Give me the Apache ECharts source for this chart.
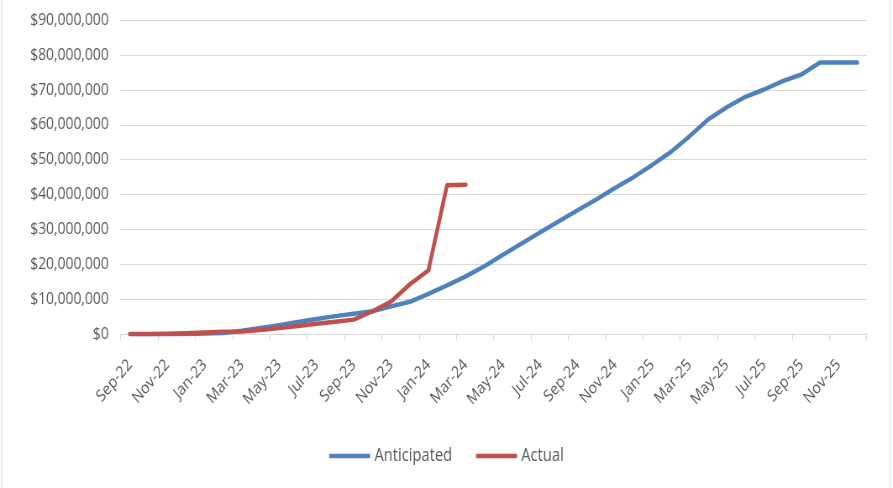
<!DOCTYPE html>
<html>
<head>
<meta charset="utf-8">
<script src="https://cdn.jsdelivr.net/npm/echarts@6/dist/echarts.min.js"></script>
<style>
  html, body { margin: 0; padding: 0; background: #fff; overflow: hidden; }
  #wrap { width: 893px; height: 488px; overflow: hidden; position: relative; }
  #chart { width: 1063px; height: 488px; transform: scaleX(0.84); transform-origin: 0 0; }
</style>
</head>
<body>
<div id="wrap"><div id="chart"></div></div>
<script>
// Months (categories)
var months = ['Sep-22','Oct-22','Nov-22','Dec-22',
  'Jan-23','Feb-23','Mar-23','Apr-23','May-23','Jun-23','Jul-23','Aug-23','Sep-23','Oct-23','Nov-23','Dec-23',
  'Jan-24','Feb-24','Mar-24','Apr-24','May-24','Jun-24','Jul-24','Aug-24','Sep-24','Oct-24','Nov-24','Dec-24',
  'Jan-25','Feb-25','Mar-25','Apr-25','May-25','Jun-25','Jul-25','Aug-25','Sep-25','Oct-25','Nov-25','Dec-25'];

// Cumulative values, in millions of dollars
var anticipatedM = [0, 0, 0.05, 0.1, 0.2, 0.4, 1.0, 1.8, 2.6, 3.5, 4.4, 5.2, 5.9, 6.6, 8.0, 9.3,
  11.6, 14.0, 16.6, 19.5, 22.8, 26.0, 29.2, 32.4, 35.5, 38.6, 41.9, 45.0,
  48.5, 52.2, 56.7, 61.5, 65.0, 68.0, 70.1, 72.5, 74.4, 77.8, 77.8, 77.8];
var actualM = [0.1, 0.1, 0.15, 0.3, 0.5, 0.7, 0.8, 1.2, 1.8, 2.4, 3.0, 3.6, 4.2, 6.6, 9.4, 14.3,
  18.3, 42.7, 42.8];

// Y axis ticks
var yMin = 0, yMax = 90000000, yStep = 10000000;

var seriesNames = ['Anticipated', 'Actual'];
var seriesColors = ['#4F81BD', '#C0504D'];

var FONT = "'Open Sans', sans-serif";
var TXT = '#595959';
var SX = 0.84; // horizontal squeeze of the whole drawing

function toDollars(arr) { return arr.map(function (v) { return Math.round(v * 1e6); }); }
function money(v) { return '$' + Number(v).toLocaleString('en-US'); }

var chart = echarts.init(document.getElementById('chart'));
chart.setOption({
  backgroundColor: '#ffffff',
  animation: false,
  graphic: [{
    type: 'rect', silent: true, z: -10,
    shape: { x: 1.5 / SX, y: -5, width: 888.5 / SX, height: 500 },
    style: { fill: 'none', stroke: '#d9d9d9', lineWidth: 1 }
  }],
  grid: { left: 120.7 / SX, right: 26.3 / SX, top: 20, bottom: 153.7, containLabel: false, outerBoundsMode: 'none' },
  legend: {
    data: seriesNames,
    left: 'center', top: 442,
    icon: 'roundRect',
    itemWidth: 41 / SX, itemHeight: 4.5, itemGap: 24 / SX,
    textStyle: { color: TXT, fontSize: 17.5, fontFamily: FONT }
  },
  xAxis: {
    type: 'category',
    data: months,
    boundaryGap: true,
    axisLine: { show: true, lineStyle: { color: '#d9d9d9', width: 1.2 } },
    axisTick: { show: true, interval: 1, length: 6, lineStyle: { color: '#d9d9d9', width: 1.2 } },
    axisLabel: { interval: 1, rotate: 45, margin: 28, color: TXT, fontSize: 16.5, fontFamily: FONT },
    splitLine: { show: false }
  },
  yAxis: {
    type: 'value',
    min: yMin, max: yMax, interval: yStep,
    axisLine: { show: false },
    axisTick: { show: false },
    axisLabel: { margin: 12 / SX, color: TXT, fontSize: 16.5, fontFamily: FONT, formatter: money },
    splitLine: { lineStyle: { color: '#d9d9d9', width: 1.2 } }
  },
  series: [
    {
      name: seriesNames[0], type: 'line', data: toDollars(anticipatedM),
      symbol: 'none', color: seriesColors[0],
      lineStyle: { width: 4.5, color: seriesColors[0], cap: 'round', join: 'round' }
    },
    {
      name: seriesNames[1], type: 'line', data: toDollars(actualM),
      symbol: 'none', color: seriesColors[1],
      lineStyle: { width: 4.5, color: seriesColors[1], cap: 'round', join: 'round' }
    }
  ]
});
</script>
</body>
</html>
